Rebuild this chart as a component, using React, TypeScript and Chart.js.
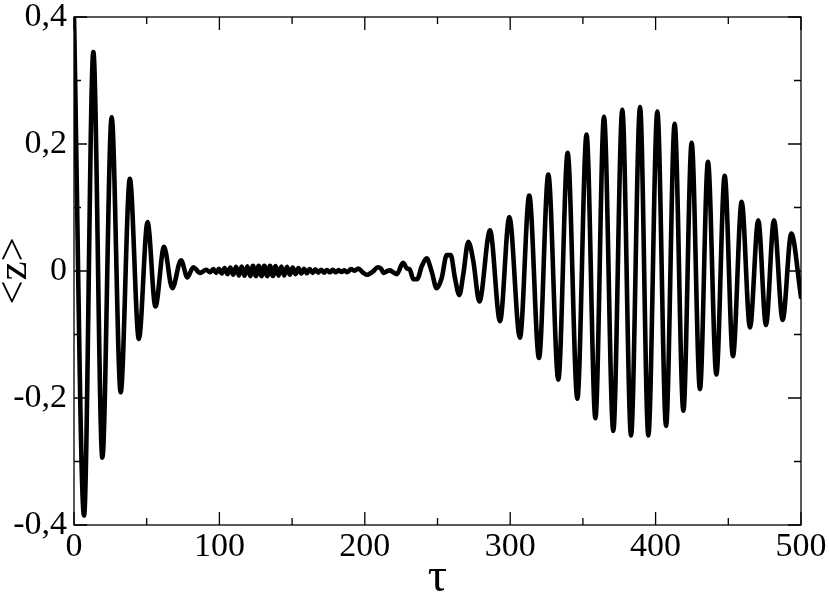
import React, { useEffect, useRef } from "react";
import { Chart, registerables } from "chart.js";

Chart.register(...registerables);

// ---- data (local extrema and shoulders of <z>(tau)) ----
const tauCollapse = [0, 6.9, 13.3, 19.5, 25.9, 32.1, 38.4, 44.6, 50.6, 56.0, 61.9, 67.6, 73.6, 78.0, 82.0, 86.7, 91.0];
const zCollapse = [0.4, -0.385, 0.345, -0.294, 0.242, -0.191, 0.145, -0.107, 0.077, -0.056, 0.038, -0.027, 0.017, -0.01, 0.006, -0.003, 0.002];

const tauQuiet = [
  93.5, 95.8, 97.8, 99.7, 101.7, 103.6, 105.6, 107.5, 109.5, 111.4, 113.4, 115.3, 117.3, 119.2, 121.2, 123.1,
  125.1, 127.0, 129.0, 130.9, 132.9, 134.8, 136.8, 138.7, 140.7, 142.6, 144.6, 146.5, 148.5, 150.4, 152.4, 154.3,
  156.3, 158.2, 160.2, 162.1, 164.1, 166.0, 168.0, 170.0, 172.0, 174.0, 176.0, 178.0, 180.0, 182.0, 184.0, 186.0,
  188.0, 190.5, 193.0, 195.5, 198.5, 201.5, 203.5, 205.5, 209.0, 211.0, 213.0, 215.5, 217.5, 219.5, 222.0,
];
const zQuiet = [
  -0.002, 0.003, -0.003, 0.0035, -0.004, 0.0045, -0.005, 0.0055, -0.006, 0.0065, -0.007, 0.007, -0.0075, 0.0075, -0.008, 0.008,
  -0.008, 0.008, -0.008, 0.008, -0.008, 0.008, -0.0078, 0.0078, -0.0075, 0.0072, -0.007, 0.0065, -0.006, 0.0055, -0.005, 0.0045,
  -0.004, 0.0035, -0.0035, 0.003, -0.003, 0.0025, -0.0025, 0.002, -0.0025, 0.0015, -0.002, 0.002, -0.002, 0.0015, -0.0015, 0.001,
  -0.002, 0.003, 0.0005, 0.004, -0.002, -0.006, -0.004, -0.001, 0.006, 0.004, -0.003, 0.0, 0.001, -0.002, -0.005,
];

const tauRevival = [
  226.3, 229.0, 231.0, 233.4, 236.0, 239.1, 242.5, 246.0, 249.4, 252.9, 256.3, 259.1, 262.0, 265.0, 267.8, 271.2,
  274.6, 278.8, 286.1, 293.0, 299.4, 306.7, 313.1, 319.8, 326.2, 333.1, 339.5, 346.2, 352.5, 358.6, 364.5, 370.9,
  377.1, 383.1, 389.3, 395.0, 401.2, 407.2, 413.1, 419.1, 424.8, 430.5, 436.0, 441.8, 447.5, 453.2, 459.2, 464.9,
  470.6, 475.9, 481.4, 487.4, 493.3, 500.0,
];
const zRevival = [
  0.013, 0.004, 0.002, -0.013, -0.013, 0.007, 0.02, -0.001, -0.027, -0.011, 0.025, 0.025, -0.011, -0.038, -0.004, 0.046,
  0.016, -0.048, 0.064, -0.079, 0.085, -0.105, 0.119, -0.137, 0.152, -0.171, 0.186, -0.201, 0.215, -0.232, 0.243, -0.252,
  0.254, -0.259, 0.258, -0.259, 0.251, -0.244, 0.232, -0.22, 0.202, -0.186, 0.172, -0.163, 0.15, -0.134, 0.109, -0.089,
  0.08, -0.085, 0.08, -0.077, 0.059, -0.041,
];

// ---- axes ----
const xTickValues = [0, 100, 200, 300, 400, 500];
const xTickLabels = ["0", "100", "200", "300", "400", "500"];
const xMinorTicks = [50, 150, 250, 350, 450];
const yTickValues = [-0.4, -0.2, 0, 0.2, 0.4];
const yTickLabels = ["-0,4", "-0,2", "0", "0,2", "0,4"];
const yMinorTicks = [-0.3, -0.1, 0.1, 0.3];
const xTitle = "τ";
const yTitle = "<z>";

const FONT = '"Liberation Serif", "DejaVu Serif", serif';

export default function App() {
  const canvasRef = useRef<HTMLCanvasElement | null>(null);

  useEffect(() => {
    document.body.style.margin = "0";
    const canvas = canvasRef.current;
    if (!canvas) return;

    const tau = [...tauCollapse, ...tauQuiet, ...tauRevival];
    const z = [...zCollapse, ...zQuiet, ...zRevival];
    const points = tau.map((t, i) => ({ x: t, y: z[i] }));

    const framePlugin = {
      id: "frameTicks",
      afterDatasetsDraw(chart: any) {
        const { ctx, chartArea, scales } = chart;
        const { left, right, top, bottom } = chartArea;
        const xs = scales.x;
        const ys = scales.y;
        ctx.save();
        ctx.strokeStyle = "#000";
        ctx.lineWidth = 1.3;
        ctx.strokeRect(left, top, right - left, bottom - top);
        ctx.beginPath();
        const major = 13;
        const minor = 7;
        const xt = (v: number, len: number) => {
          const px = xs.getPixelForValue(v);
          ctx.moveTo(px, bottom);
          ctx.lineTo(px, bottom - len);
          ctx.moveTo(px, top);
          ctx.lineTo(px, top + len);
        };
        const yt = (v: number, len: number) => {
          const py = ys.getPixelForValue(v);
          ctx.moveTo(left, py);
          ctx.lineTo(left + len, py);
          ctx.moveTo(right, py);
          ctx.lineTo(right - len, py);
        };
        xTickValues.forEach((v) => xt(v, major));
        xMinorTicks.forEach((v) => xt(v, minor));
        yTickValues.forEach((v) => yt(v, major));
        yMinorTicks.forEach((v) => yt(v, minor));
        ctx.stroke();

        // axis titles
        ctx.fillStyle = "#000";
        ctx.textAlign = "center";
        ctx.textBaseline = "alphabetic";
        ctx.font = `48px ${FONT}`;
        ctx.fillText(xTitle, (left + right) / 2, 591);
        ctx.save();
        ctx.translate(15, (top + bottom) / 2);
        ctx.rotate(-Math.PI / 2);
        ctx.textBaseline = "middle";
        ctx.font = `43px ${FONT}`;
        ctx.fillText(yTitle, 0, 0);
        ctx.restore();
        ctx.restore();
      },
    };

    const chart = new Chart(canvas, {
      type: "line",
      data: {
        datasets: [
          {
            data: points,
            borderColor: "#000",
            borderWidth: 4.6,
            pointRadius: 0,
            fill: false,
            cubicInterpolationMode: "monotone",
            borderJoinStyle: "round",
            borderCapStyle: "round",
          },
        ],
      },
      options: {
        animation: false,
        responsive: false,
        devicePixelRatio: 1,
        parsing: false,
        normalized: true,
        layout: { padding: { top: 17, right: 29, left: 0, bottom: 0 } },
        plugins: { legend: { display: false }, tooltip: { enabled: false } },
        scales: {
          x: {
            type: "linear",
            min: 0,
            max: 500,
            grid: { display: false, drawTicks: false },
            border: { display: false },
            afterBuildTicks: (s: any) => {
              s.ticks = xTickValues.map((v) => ({ value: v }));
            },
            afterFit: (s: any) => {
              s.height = 71;
              s.paddingLeft = 0;
              s.paddingRight = 0;
            },
            ticks: {
              color: "#000",
              padding: 2,
              maxRotation: 0,
              autoSkip: false,
              font: { family: FONT, size: 34 },
              callback: (_v: any, i: number) => xTickLabels[i],
            },
          },
          y: {
            type: "linear",
            min: -0.4,
            max: 0.4,
            grid: { display: false, drawTicks: false },
            border: { display: false },
            afterBuildTicks: (s: any) => {
              s.ticks = yTickValues.map((v) => ({ value: v }));
            },
            afterFit: (s: any) => {
              s.width = 74;
              s.paddingTop = 0;
              s.paddingBottom = 0;
            },
            ticks: {
              color: "#000",
              padding: 7,
              autoSkip: false,
              font: { family: FONT, size: 34 },
              callback: (_v: any, i: number) => yTickLabels[i],
            },
          },
        },
      },
      plugins: [framePlugin],
    });

    return () => chart.destroy();
  }, []);

  return (
    <div style={{ position: "absolute", left: 0, top: 0, width: 830, height: 596, background: "#fff" }}>
      <canvas ref={canvasRef} width={830} height={596} style={{ width: 830, height: 596, display: "block" }} />
    </div>
  );
}
